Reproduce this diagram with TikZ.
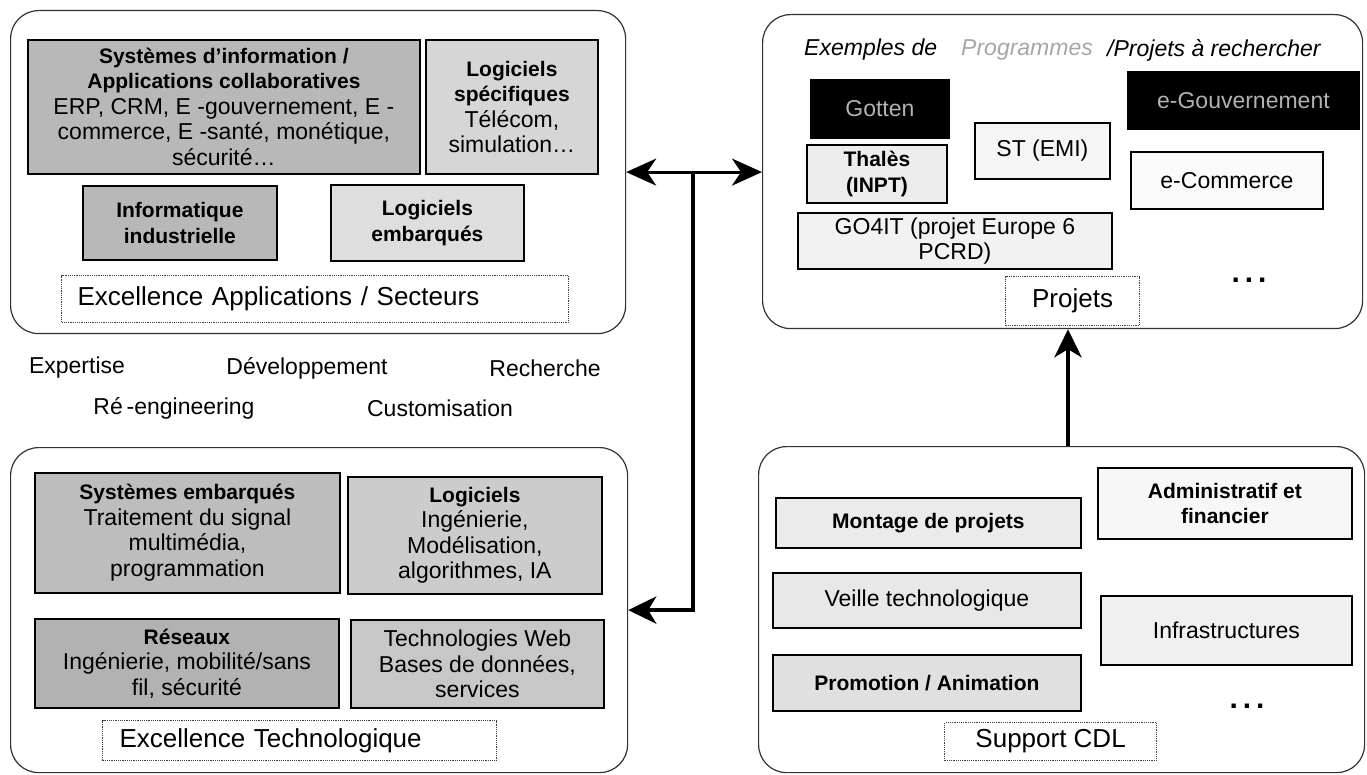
\documentclass[tikz,border=0pt]{standalone}
\usepackage{fontspec}
\setmainfont{Liberation Sans}
\usetikzlibrary{arrows.meta}
\newcommand\regf{\fontsize{23}{25.5}\selectfont}
\newcommand\bigf{\fontsize{26}{28}\selectfont}
\newcommand\hdg[1]{{\fontsize{21}{25.5}\selectfont\bfseries #1}}
\tikzset{
  grp/.style={draw=black!80, line width=1.2pt, rounded corners=28pt, anchor=north west, inner sep=0pt},
  bx/.style={draw=black, line width=1.8pt, align=center, inner sep=0pt, anchor=north west, font=\regf},
  blk/.style={bx, fill=black, text=white!70!black},
  dbx/.style={draw=black!75, densely dotted, line width=1.2pt, inner sep=0pt, anchor=north west, font=\bigf},
  word/.style={font=\regf, inner sep=0pt},
  ttl/.style={font=\regf\itshape, inner sep=0pt, anchor=west},
  harr/.style={line width=3pt, {Stealth[length=30pt,width=27pt,inset=9pt]}-{Stealth[length=30pt,width=27pt,inset=9pt]}},
  varr/.style={line width=4.5pt, -{Stealth[length=28pt,width=27pt,inset=8pt]}},
  dots/.style={font=\fontsize{30}{30}\selectfont\bfseries, inner sep=0pt}
}
\begin{document}
\begin{tikzpicture}[x=1pt,y=-1pt]
\useasboundingbox (0,0) rectangle (1367,775);
% group frames
\node[grp, minimum width=615, minimum height=323] (TL) at (10,10) {};
\node[grp, minimum width=600, minimum height=314] (TR) at (762,14) {};
\node[grp, minimum width=617, minimum height=325] (BL) at (10,447) {};
\node[grp, minimum width=606, minimum height=326] (BR) at (758,446) {};

% top left
\node[bx, fill=black!28, minimum width=392, minimum height=134] (sysinfo) at (27,39)
  {\hdg{Systèmes d’information /}\\ \hdg{Applications collaboratives}\\ ERP, CRM, E -gouvernement, E -\\ commerce, E -santé, monétique,\\ sécurité…};
\node[bx, fill=black!16, minimum width=172, minimum height=134] (logspec) at (425,39)
  {\hdg{Logiciels}\\ \hdg{spécifiques}\\ Télécom,\\ simulation…};
\node[bx, fill=black!28, minimum width=194, minimum height=74] (infoind) at (82,185)
  {\hdg{Informatique}\\ \hdg{industrielle}};
\node[bx, fill=black!13, minimum width=193, minimum height=76] (logemb) at (330,184)
  {\hdg{Logiciels}\\ \hdg{embarqués}};
\node[dbx, minimum height=47, inner xsep=16pt, text width=475pt, align=left] (excapp) at (61,275)
  {Excellence Applications / Secteurs};

% middle words
\node[word] (w1) at (77,368) {Expertise};
\node[word] (w2) at (307,368) {Développement};
\node[word] (w3) at (545,368) {Recherche};
\node[word] (w4) at (174,408) {Ré\,-engineering};
\node[word] (w5) at (440,408) {Customisation};

% top right
\node[ttl] (t1) at (804,50) {Exemples de};
\node[ttl, text=black!35] (t2) at (961,50) {Programmes};
\node[ttl] (t3) at (1107,50) {/Projets à rechercher};
\node[blk, minimum width=138, minimum height=58] (gotten) at (810,79) {Gotten};
\node[blk, minimum width=231, minimum height=57] (egouv) at (1127,71) {e-Gouvernement};
\node[bx, fill=black!4, minimum width=135, minimum height=56] (st) at (974,122) {ST (EMI)};
\node[bx, fill=black!7, minimum width=140, minimum height=58] (thales) at (806,144)
  {\hdg{Thalès}\\ \hdg{(INPT)}};
\node[bx, fill=black!2, minimum width=192, minimum height=57] (ecom) at (1130,151) {e-Commerce};
\node[bx, fill=black!5, minimum width=314, minimum height=56] (go4it) at (797,212)
  {GO4IT (projet Europe 6\\ PCRD)};
\node[dbx, minimum width=134, minimum height=49] (projets) at (1005,276) {Projets};
\node[dots] (d1) at (1249,280) {.\,.\,.};

% bottom left
\node[bx, fill=black!26, minimum width=305, minimum height=120] (sysemb) at (34,472)
  {\hdg{Systèmes embarqués}\\ Traitement du signal\\ multimédia,\\ programmation};
\node[bx, fill=black!20, minimum width=254, minimum height=117] (logic) at (347,476)
  {\hdg{Logiciels}\\ Ingénierie,\\ Modélisation,\\ algorithmes, IA};
\node[bx, fill=black!30, minimum width=304, minimum height=89] (reseaux) at (34,618)
  {\hdg{Réseaux}\\ Ingénierie, mobilité/sans\\ fil, sécurité};
\node[bx, fill=black!22, minimum width=253, minimum height=88] (techweb) at (350,619)
  {Technologies Web\\ Bases de données,\\ services};
\node[dbx, minimum height=40, inner xsep=17pt, text width=360pt, align=left] (exctech) at (102,720)
  {Excellence Technologique};

% bottom right
\node[bx, fill=black!3, minimum width=254, minimum height=71] (admin) at (1097,467)
  {\hdg{Administratif et}\\ \hdg{financier}};
\node[bx, fill=black!8, minimum width=305, minimum height=50] (montage) at (775,497)
  {\hdg{Montage de projets}};
\node[bx, fill=black!9, minimum width=308, minimum height=55] (veille) at (772,572)
  {Veille technologique};
\node[bx, fill=black!12, minimum width=308, minimum height=56] (promo) at (772,654)
  {\hdg{Promotion / Animation}};
\node[bx, fill=black!6, minimum width=251, minimum height=69] (infra) at (1100,595)
  {Infrastructures};
\node[dots] (d2) at (1247,706) {.\,.\,.};
\node[dbx, minimum width=212, minimum height=38] (support) at (944,722) {Support CDL};

% connectors
\coordinate (J) at (693,0);
\coordinate (U) at (1068,0);
\draw[harr] (TL.east) -- (TL.east -| TR.west);
\draw[varr] (TL.east -| J) |- (BL.east);
\draw[varr] (BR.north -| U) -- (TR.south -| U);
\end{tikzpicture}
\end{document}
